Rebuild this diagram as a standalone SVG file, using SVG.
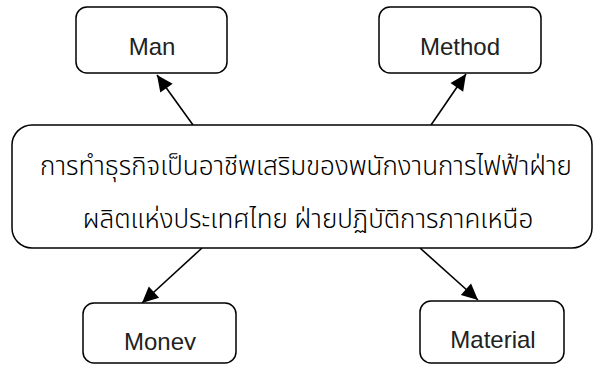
<svg xmlns="http://www.w3.org/2000/svg" width="595" height="365" viewBox="0 0 595 365">
<defs>
<style>
.box{fill:#fff;stroke:#000;stroke-width:1.5}
.lbl{font-family:"Liberation Sans",Arial,sans-serif;font-size:24px;fill:#222;text-anchor:middle}
.th{font-family:"Noto Sans Thai","Noto Sans","DejaVu Sans",sans-serif;font-size:26px;font-weight:300;fill:#000;text-anchor:middle}
.edge{stroke:#000;stroke-width:1.6;fill:none;marker-end:url(#ah)}
</style>
<marker id="ah" viewBox="0 0 10 10" refX="9" refY="5" markerWidth="9" markerHeight="9" markerUnits="userSpaceOnUse" orient="auto" overflow="visible">
<path d="M-9,-3.5 L9,5 L-9,13.5 z" fill="#000"/>
</marker>
<clipPath id="cl"><rect x="0" y="0" width="595" height="350"/></clipPath>
</defs>
<g id="connectors">
<line class="edge" x1="193" y1="125" x2="157" y2="75"/>
<line class="edge" x1="431" y1="125" x2="466" y2="74"/>
<line class="edge" x1="202" y1="248" x2="142" y2="303"/>
<line class="edge" x1="420" y1="248" x2="478" y2="300"/>
</g>
<g id="man">
<rect class="box" x="76" y="7" width="151" height="66" rx="11"/>
<text class="lbl" x="152" y="55">Man</text>
</g>
<g id="method">
<rect class="box" x="379" y="7" width="162" height="66" rx="11"/>
<text class="lbl" x="460" y="55">Method</text>
</g>
<g id="center">
<rect class="box" x="12" y="125" width="580" height="123" rx="20"/>
<text class="th" x="306" y="175">การทำธุรกิจเป็นอาชีพเสริมของพนักงานการไฟฟ้าฝ่าย</text>
<text class="th" x="308" y="228">ผลิตแห่งประเทศไทย ฝ่ายปฏิบัติการภาคเหนือ</text>
</g>
<g id="money">
<rect class="box" x="83" y="303" width="153" height="60" rx="11"/>
<text class="lbl" x="160" y="350" clip-path="url(#cl)">Money</text>
</g>
<g id="material">
<rect class="box" x="420" y="301" width="144" height="62" rx="11"/>
<text class="lbl" x="493" y="348">Material</text>
</g>
</svg>
